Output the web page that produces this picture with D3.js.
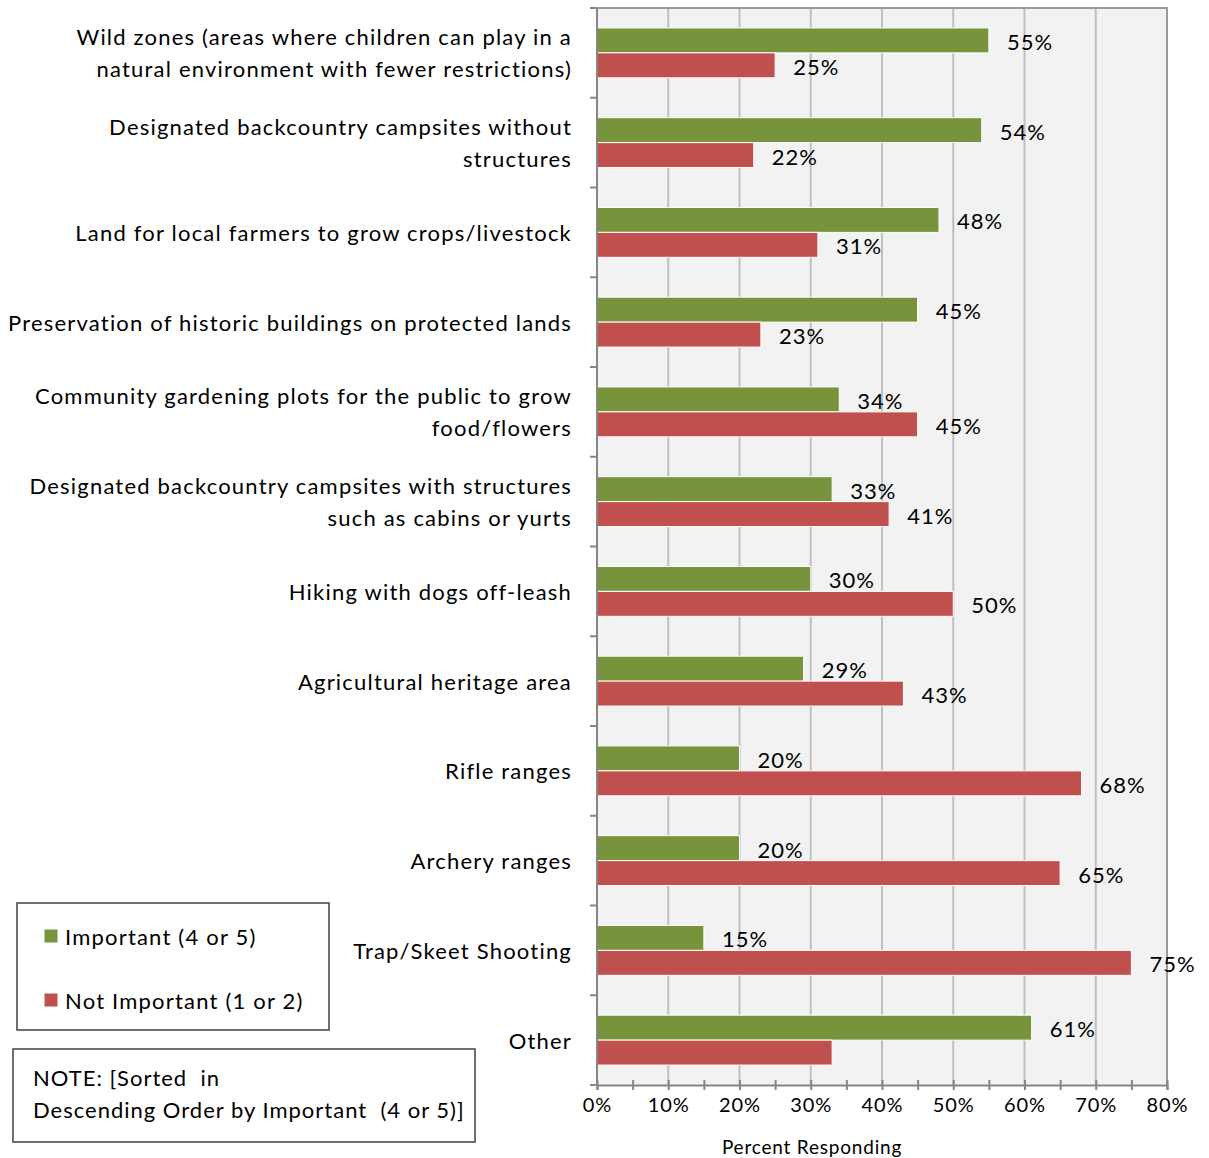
<!DOCTYPE html>
<html>
<head>
<meta charset="utf-8">
<script src="https://cdn.jsdelivr.net/npm/d3@7"></script>
<style>
  html, body { margin: 0; padding: 0; background: #fff; }
  svg { display: block; font-family: Lato, "Open Sans", sans-serif; }
</style>
</head>
<body>
<svg id="chart" width="1209" height="1158"></svg>
<script>
// Survey items, each label split into its displayed lines
const categories = [
  ["Wild zones (areas where children can play in a", "natural environment with fewer restrictions)"],
  ["Designated backcountry campsites without", "structures"],
  ["Land for local farmers to grow crops/livestock"],
  ["Preservation of historic buildings on protected lands"],
  ["Community gardening plots for the public to grow", "food/flowers"],
  ["Designated backcountry campsites with structures", "such as cabins or yurts"],
  ["Hiking with dogs off-leash"],
  ["Agricultural heritage area"],
  ["Rifle ranges"],
  ["Archery ranges"],
  ["Trap/Skeet Shooting"],
  ["Other"]
];
const seriesNames = ["Important (4 or 5)", "Not Important (1 or 2)"];
const important    = [55, 54, 48, 45, 34, 33, 30, 29, 20, 20, 15, 61];
const notImportant = [25, 22, 31, 23, 45, 41, 50, 43, 68, 65, 75, 33];
// Value labels shown next to bars (null = no label)
const importantLabels    = ["55%", "54%", "48%", "45%", "34%", "33%", "30%", "29%", "20%", "20%", "15%", "61%"];
const notImportantLabels = ["25%", "22%", "31%", "23%", "45%", "41%", "50%", "43%", "68%", "65%", "75%", null];
const xTicks = [0, 10, 20, 30, 40, 50, 60, 70, 80];
const axisTitle = "Percent Responding";
const noteLines = ["NOTE: [Sorted  in", "Descending Order by Important  (4 or 5)]"];

const colors = ["#77933c", "#c0504d"];
const textSpacing = "1.2px";

const svg = d3.select("#chart");
const plot = { left: 597, right: 1167, top: 8, bottom: 1085 };

const x = d3.scaleLinear().domain([0, 80]).range([plot.left, plot.right]);
const y = d3.scaleBand().domain(d3.range(categories.length)).range([plot.top, plot.bottom]).padding(0);
const inner = d3.scaleBand().domain([0, 1]).range([0, y.bandwidth()])
  .paddingInner(0).paddingOuter(0.8);

// Plot background
svg.append("rect")
  .attr("x", plot.left).attr("y", plot.top)
  .attr("width", plot.right - plot.left).attr("height", plot.bottom - plot.top)
  .attr("fill", "#f2f2f2");

// Vertical gridlines
svg.append("g").selectAll("line")
  .data(xTicks.slice(1, -1))
  .join("line")
  .attr("x1", d => x(d)).attr("x2", d => x(d))
  .attr("y1", plot.top).attr("y2", plot.bottom)
  .attr("stroke", "#bfbfbf").attr("stroke-width", 2);

// Top and right frame
svg.append("path")
  .attr("d", `M${plot.left},${plot.top}H${plot.right}V${plot.bottom}`)
  .attr("fill", "none").attr("stroke", "#9a9a9a").attr("stroke-width", 2);

// Bars
const rows = categories.map((c, i) => ({
  i, vals: [important[i], notImportant[i]], labels: [importantLabels[i], notImportantLabels[i]]
}));
const groups = svg.append("g").selectAll("g")
  .data(rows).join("g")
  .attr("transform", d => `translate(0,${y(d.i)})`);

groups.selectAll("rect")
  .data(d => d.vals.map((v, s) => ({ v, s })))
  .join("rect")
  .attr("x", x(0))
  .attr("y", d => inner(d.s))
  .attr("width", d => x(d.v) - x(0))
  .attr("height", inner.bandwidth())
  .attr("fill", d => colors[d.s])
  .attr("stroke", "#fff").attr("stroke-width", 1);

groups.selectAll("text")
  .data(d => d.vals.map((v, s) => ({ v, s, label: d.labels[s] })).filter(d => d.label))
  .join("text")
  .attr("x", d => x(d.v) + 18)
  .attr("y", d => inner(d.s) + inner.bandwidth() / 2 + 1)
  .attr("dominant-baseline", "central")
  .attr("font-size", 22)
  .attr("letter-spacing", "1px")
  .attr("fill", "#000")
  .text(d => d.label);

// Left axis with ticks at category boundaries
const yAxis = svg.append("g");
yAxis.append("line")
  .attr("x1", plot.left).attr("x2", plot.left)
  .attr("y1", plot.top).attr("y2", plot.bottom)
  .attr("stroke", "#868686").attr("stroke-width", 2);
yAxis.selectAll("line.tick")
  .data(d3.range(categories.length + 1))
  .join("line").attr("class", "tick")
  .attr("x1", plot.left - 7).attr("x2", plot.left)
  .attr("y1", d => plot.top + d * y.step()).attr("y2", d => plot.top + d * y.step())
  .attr("stroke", "#868686").attr("stroke-width", 2);

// Category labels
const lineH = 32;
svg.append("g").selectAll("text")
  .data(categories.map((lines, i) => ({ lines, i })))
  .join("text")
  .attr("text-anchor", "end")
  .attr("font-size", 22)
  .attr("letter-spacing", textSpacing)
  .attr("fill", "#000")
  .each(function (d) {
    const cy = y(d.i) + y.bandwidth() / 2;
    const start = cy - (d.lines.length - 1) * lineH / 2;
    d3.select(this).selectAll("tspan")
      .data(d.lines).join("tspan")
      .attr("x", 572)
      .attr("y", (l, k) => start + k * lineH)
      .attr("dominant-baseline", "central")
      .text(l => l);
  });

// Bottom axis
const xAxis = d3.axisBottom(x)
  .tickValues(d3.range(0, 81, 5))
  .tickSize(5)
  .tickFormat(d => xTicks.includes(d) ? d + "%" : "");
const gx = svg.append("g").attr("transform", `translate(0,${plot.bottom})`).call(xAxis);
gx.select(".domain").attr("stroke", "#868686").attr("stroke-width", 2);
gx.selectAll(".tick line").attr("stroke", "#868686").attr("stroke-width", 2).attr("y1", -5);
gx.selectAll(".tick text")
  .attr("font-family", "Lato, sans-serif").attr("font-size", 20).attr("fill", "#000")
  .attr("letter-spacing", "1px")
  .attr("y", 27).attr("dy", "0");

svg.append("text")
  .attr("x", 812).attr("y", 1146)
  .attr("text-anchor", "middle").attr("dominant-baseline", "central")
  .attr("font-size", 19).attr("letter-spacing", "0.8px").attr("fill", "#000")
  .text(axisTitle);

// Legend
const legend = svg.append("g");
legend.append("rect")
  .attr("x", 17).attr("y", 903).attr("width", 312).attr("height", 127)
  .attr("fill", "#fff").attr("stroke", "#404040").attr("stroke-width", 1.5);
const legendY = d3.scalePoint().domain(seriesNames).range([936, 1000]);
legend.selectAll("rect.key")
  .data(seriesNames).join("rect").attr("class", "key")
  .attr("x", 44).attr("y", d => legendY(d) - 7)
  .attr("width", 14).attr("height", 14)
  .attr("fill", (d, i) => colors[i])
  .attr("stroke", "#fff").attr("stroke-width", 1);
legend.selectAll("text")
  .data(seriesNames).join("text")
  .attr("x", 65).attr("y", d => legendY(d))
  .attr("dominant-baseline", "central")
  .attr("font-size", 22).attr("letter-spacing", textSpacing).attr("fill", "#000")
  .text(d => d);

// Note box
const note = svg.append("g");
note.append("rect")
  .attr("x", 13).attr("y", 1049).attr("width", 462).attr("height", 93)
  .attr("fill", "#fff").attr("stroke", "#404040").attr("stroke-width", 1.5);
note.selectAll("text")
  .data(noteLines).join("text")
  .attr("x", 33).attr("y", (d, i) => 1077 + i * 32)
  .attr("dominant-baseline", "central")
  .attr("font-size", 22).attr("letter-spacing", "1px").attr("fill", "#000")
  .attr("xml:space", "preserve").style("white-space", "pre")
  .text(d => d);
</script>
</body>
</html>
